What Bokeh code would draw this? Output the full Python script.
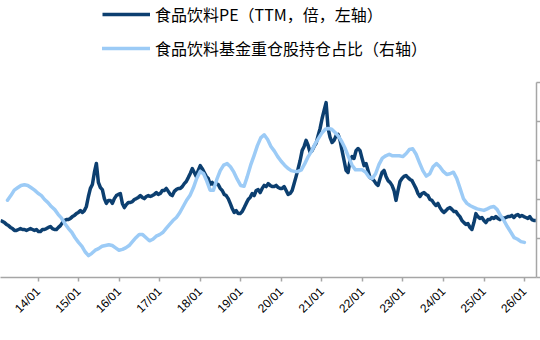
import math
import pandas as pd
from bokeh.plotting import figure
from bokeh.models import (Range1d, LinearAxis, FixedTicker, DatetimeTickFormatter,
                          Legend, LegendItem, ColumnDataSource)
from bokeh.embed import file_html
from bokeh.resources import INLINE

# ---- data ----
pe_start = "2013-01-27"          # first PE observation, then every 18 days
pe_values = [
    24.0, 23.7, 23.3, 22.7, 22.3, 21.7, 21.3, 20.7, 20.7, 21.0,
    21.3, 21.0, 21.0, 20.7, 21.0, 21.3, 21.0, 20.7, 21.0, 20.3,
    20.3, 21.0, 21.0, 21.3, 21.7, 22.0, 21.3, 21.0, 21.0, 21.7,
    22.3, 23.3, 24.0, 24.3, 24.3, 24.7, 25.3, 25.7, 26.3, 26.7,
    27.3, 26.7, 27.3, 28.7, 32.0, 34.7, 36.0, 40.0, 43.0, 36.7,
    35.0, 34.3, 31.3, 29.7, 30.7, 30.7, 29.7, 31.3, 32.3, 32.7,
    33.0, 29.7, 28.3, 29.3, 30.0, 30.0, 30.3, 31.0, 31.3, 31.7,
    32.3, 31.7, 31.3, 32.0, 32.3, 32.0, 32.3, 32.7, 33.3, 32.7,
    33.0, 34.0, 34.0, 34.7, 33.7, 32.7, 32.3, 33.7, 34.3, 34.7,
    34.7, 35.3, 36.3, 37.0, 38.3, 39.7, 41.3, 40.0, 38.7, 40.7,
    42.3, 41.3, 40.0, 38.7, 38.0, 36.0, 36.7, 35.7, 36.3, 36.0,
    34.7, 34.0, 32.7, 32.3, 31.3, 29.7, 28.0, 26.7, 27.3, 26.3,
    26.3, 27.0, 28.3, 29.7, 31.0, 31.7, 33.0, 32.3, 34.0, 34.3,
    33.3, 34.7, 35.7, 35.3, 36.3, 35.7, 35.3, 35.3, 35.7, 35.0,
    34.7, 34.7, 35.3, 34.0, 32.7, 33.0, 34.0, 36.3, 38.7, 41.3,
    44.0, 47.3, 48.7, 50.7, 49.0, 46.7, 47.3, 48.7, 49.7, 52.3,
    54.7, 58.0, 60.7, 63.3, 54.7, 51.7, 50.0, 50.7, 52.3, 52.7,
    50.7, 47.3, 44.0, 40.7, 40.0, 44.0, 45.3, 44.7, 47.3, 48.0,
    47.3, 44.7, 42.3, 43.0, 40.7, 38.3, 38.0, 37.3, 36.3, 35.7,
    38.0, 40.0, 40.7, 38.7, 37.3, 36.7, 35.7, 34.0, 30.7, 34.0,
    37.0, 38.0, 38.7, 39.0, 38.3, 37.7, 37.3, 36.0, 34.7, 33.0,
    32.0, 33.0, 33.3, 32.7, 32.3, 31.0, 30.7, 29.7, 29.0, 29.7,
    28.3, 27.3, 26.7, 27.3, 28.0, 28.3, 27.7, 27.0, 27.0, 26.0,
    25.3, 24.0, 23.3, 22.7, 23.0, 21.7, 21.0, 23.3, 26.3, 25.3,
    24.7, 25.0, 24.0, 23.3, 24.3, 24.3, 25.0, 24.7, 25.3, 24.7,
    24.3, 25.0, 24.7, 25.0, 25.3, 25.3, 25.7, 25.0, 25.7, 26.0,
    25.3, 25.7, 25.3, 25.0, 24.7, 25.3, 24.3, 24.0, 24.0,
]

hold_start_month = "2013-03"     # monthly readings of the holdings curve, %
hold_values = [
    9.9, 10.5, 11.2, 11.5, 11.8, 11.9, 11.8, 11.5, 11.2, 10.8,
    10.5, 10.0, 9.6, 9.1, 8.7, 8.1, 7.6, 6.9, 6.3, 5.8,
    5.1, 4.5, 4.0, 3.3, 2.8, 3.1, 3.5, 3.7, 4.0, 4.1,
    4.2, 4.1, 3.8, 3.5, 3.6, 3.8, 4.1, 4.6, 5.1, 5.5,
    5.5, 5.1, 4.7, 4.9, 5.3, 5.5, 5.8, 6.3, 6.8, 7.3,
    7.7, 8.3, 9.1, 9.9, 10.5, 11.5, 12.7, 13.6, 13.3, 12.4,
    11.2, 11.2, 12.6, 13.7, 14.4, 14.6, 14.2, 13.5, 12.6, 11.8,
    11.7, 12.9, 14.4, 15.6, 16.9, 17.9, 18.3, 17.7, 16.8, 16.2,
    15.5, 14.9, 14.4, 14.0, 13.7, 13.6, 13.6, 13.8, 14.6, 15.5,
    16.2, 17.1, 17.8, 18.5, 19.0, 19.1, 19.0, 18.6, 18.1, 17.4,
    16.5, 15.4, 14.4, 13.8, 13.8, 13.8, 13.5, 12.9, 12.7, 13.3,
    14.5, 15.3, 15.6, 15.8, 15.6, 15.6, 15.6, 15.5, 15.9, 16.4,
    16.5, 15.8, 14.7, 13.7, 13.0, 13.3, 14.2, 14.6, 14.2, 13.6,
    13.2, 13.3, 13.5, 12.7, 11.4, 10.1, 9.5, 9.2, 9.0, 8.8,
    8.7, 8.6, 8.8, 9.0, 9.1, 8.7, 7.9, 7.3, 6.5, 5.8,
    5.1, 4.9, 4.6, 4.5,
]

tick_dates = ["2014-01-01", "2015-01-01", "2016-01-01", "2017-01-01", "2018-01-01",
              "2019-01-01", "2020-01-01", "2021-01-01", "2022-01-01", "2023-01-01",
              "2024-01-01", "2025-01-01", "2026-01-01"]
right_ticks = [0, 5, 10, 15, 20, 25]

pe_label = "食品饮料PE（TTM，倍，左轴）"
hold_label = "食品饮料基金重仓股持仓占比（右轴）"

DARK = "#0c3f70"
LIGHT = "#9ccbf6"
AXIS = "#a6a6a6"

# ---- sources ----
pe_dates = pd.date_range(pe_start, periods=len(pe_values), freq="18D")
hold_dates = pd.period_range(hold_start_month, periods=len(hold_values), freq="M").to_timestamp(how="end").normalize()
src_pe = ColumnDataSource(dict(x=pe_dates, y=pe_values))
src_hold = ColumnDataSource(dict(x=hold_dates, y=hold_values))

p = figure(width=540, height=340, x_axis_type="datetime", y_axis_location=None,
           x_range=Range1d(pd.Timestamp("2013-01-27"), pd.Timestamp("2026-04-19")),
           y_range=Range1d(5, 97.33),
           output_backend="svg", toolbar_location=None,
           min_border_left=0, min_border_right=0, min_border_top=0, min_border_bottom=63)
p.extra_y_ranges = {"right": Range1d(0, 35.51)}
p.outline_line_color = None
p.grid.visible = False
p.background_fill_color = "white"
p.border_fill_color = "white"

r1 = p.line("x", "y", source=src_pe, line_color=DARK, line_width=3.5, line_join="round")
r2 = p.line("x", "y", source=src_hold, y_range_name="right", line_color=LIGHT,
            line_width=3.5, line_join="round", line_cap="round")

# x axis
xa = p.xaxis[0]
xa.ticker = FixedTicker(ticks=[pd.Timestamp(d).value // 10**6 for d in tick_dates])
xa.formatter = DatetimeTickFormatter(years="%y/%m", months="%y/%m", days="%y/%m",
                                     hours="%y/%m", minutes="%y/%m", seconds="%y/%m",
                                     milliseconds="%y/%m", microseconds="%y/%m")
xa.major_label_orientation = math.pi / 4
xa.major_label_text_font = "Liberation Sans"
xa.major_label_text_font_size = "12px"
xa.major_label_text_color = "black"
xa.major_label_standoff = 8
xa.axis_line_color = AXIS
xa.axis_line_width = 1.5
xa.major_tick_line_color = AXIS
xa.major_tick_line_width = 1.5
xa.major_tick_out = 4
xa.major_tick_in = 0
xa.minor_tick_line_color = None

# right axis (its labels fall outside the picture in the reference)
ra = LinearAxis(y_range_name="right", ticker=FixedTicker(ticks=right_ticks), bounds=(0, 25),
                major_label_overrides={t: "" for t in right_ticks})
ra.major_label_standoff = 0
ra.axis_line_color = AXIS
ra.axis_line_width = 1.5
ra.major_tick_line_color = AXIS
ra.major_tick_line_width = 1.5
ra.major_tick_out = 4
ra.major_tick_in = 0
ra.minor_tick_line_color = None
p.add_layout(ra, "right")

legend = Legend(items=[LegendItem(label=pe_label, renderers=[r1]),
                       LegendItem(label=hold_label, renderers=[r2])],
                location=(102, 217), orientation="vertical",
                label_text_font="Noto Sans CJK SC", label_text_font_size="16px",
                label_text_color="black",
                glyph_width=48, glyph_height=20, label_height=20, spacing=10,
                label_standoff=5, padding=0, margin=0,
                border_line_color=None, background_fill_alpha=0)
p.add_layout(legend, "center")

open("out.html", "w").write(file_html(p, INLINE))
